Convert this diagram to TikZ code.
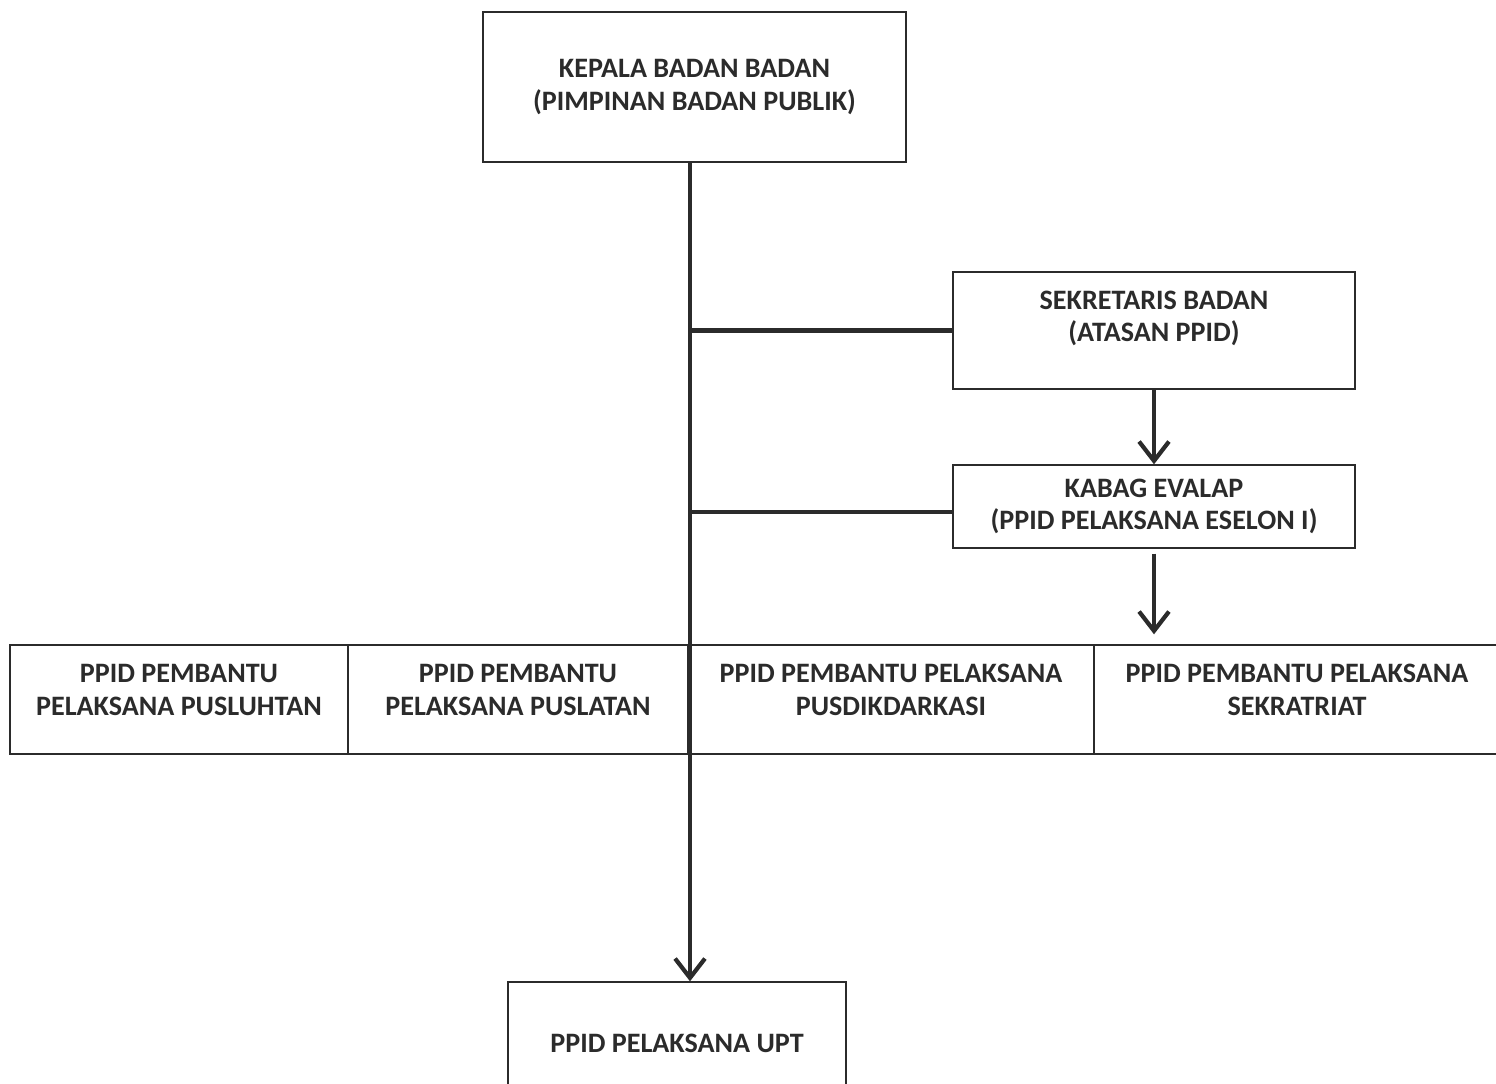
\documentclass[tikz,border=0pt]{standalone}
\usepackage{fontspec}
\setmainfont{Carlito}
\usetikzlibrary{arrows.meta}

\definecolor{tinta}{HTML}{2B2B2B}

\begin{document}
\begin{tikzpicture}[x=0.02cm, y=-0.02cm,
		kotak/.style = {draw = tinta, line width = 0.8pt, inner sep = 0pt, align = center,
			font = \fontsize{16}{18.5}\selectfont\bfseries, text = tinta},
		garis/.style = {draw = tinta, line width = 2.6pt},
		panah/.style = {garis, -{Straight Barb[length = 11pt, width = 17pt, line width = 2.4pt]}}]
		
		\useasboundingbox (0,0) rectangle (1496,1083);
		
		\coordinate (batang) at (690,0);
		
		\node [kotak, minimum width = 423*0.02cm, minimum height = 150*0.02cm] (kepala) at (694.5,87) {KEPALA BADAN BADAN\\(PIMPINAN BADAN PUBLIK)};
		
		\node [kotak, minimum width = 402*0.02cm, minimum height = 117*0.02cm, text depth = 16pt] (sekretaris) at (1154,330.5) {SEKRETARIS BADAN\\(ATASAN PPID)};
		
		\node [kotak, minimum width = 402*0.02cm, minimum height = 83*0.02cm] (kabag) at (1154,506.5) {KABAG EVALAP\\(PPID PELAKSANA ESELON I)};
		
		%pembantu
		\node [kotak, minimum width = 338*0.02cm, minimum height = 109*0.02cm, text depth = 11pt] (pusluhtan) at (179,699.5) {PPID PEMBANTU\\PELAKSANA PUSLUHTAN};
		\node [kotak, minimum width = 340*0.02cm, minimum height = 109*0.02cm, text depth = 11pt] (puslatan) at (518,699.5) {PPID PEMBANTU\\PELAKSANA PUSLATAN};
		\node [kotak, minimum width = 406*0.02cm, minimum height = 109*0.02cm, text depth = 11pt] (pusdikdarkasi) at (891,699.5) {PPID PEMBANTU PELAKSANA\\PUSDIKDARKASI};
		\node [kotak, minimum width = 406*0.02cm, minimum height = 109*0.02cm, text depth = 11pt] (sekratriat) at (1297,699.5) {PPID PEMBANTU PELAKSANA\\SEKRATRIAT};
		
		\node [kotak, minimum width = 338*0.02cm, minimum height = 122*0.02cm] (upt) at (677,1043) {PPID PELAKSANA UPT};
		
		%garis
		\draw [panah] (kepala.south -| batang) -- (upt.north -| batang);
		\draw [garis] (sekretaris.west) -- (sekretaris.west -| batang);
		\draw [garis] ([yshift = -5.5*0.02cm] kabag.west) -- ([yshift = -5.5*0.02cm] kabag.west -| batang);
		\draw [panah] (sekretaris.south) -- (kabag.north);
		\draw [panah, shorten < = 5*0.02cm, shorten > = 10*0.02cm] (kabag.south) -- (sekratriat.north -| kabag.south);
	\end{tikzpicture}
\end{document}
